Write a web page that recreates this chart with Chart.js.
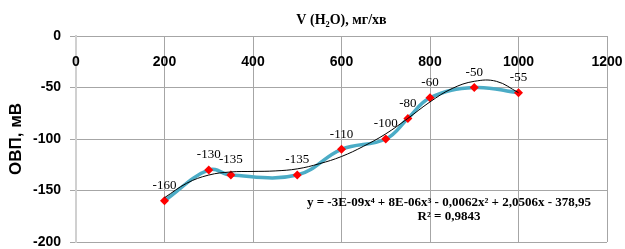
<!DOCTYPE html>
<html>
<head>
<meta charset="utf-8">
<script src="https://cdn.jsdelivr.net/npm/chart.js@4/dist/chart.umd.min.js"></script>
<style>
  html, body { margin: 0; padding: 0; background: #fff; }
  #wrap { width: 625px; height: 249px; }
</style>
</head>
<body>
<div id="wrap"><canvas id="myChart" width="625" height="249"></canvas></div>
<script>
// water flow, mg/min  ->  ORP, mV
const flowX = [200, 300, 350, 500, 600, 700, 750, 800, 900, 1000];
const orpY = [-160, -130, -135, -135, -110, -100, -80, -60, -50, -55];

// polynomial trendline
const trendX = [200, 250, 300, 350, 400, 450, 500, 550, 600, 650, 700, 750, 800, 850, 900, 950, 1000];
const trendY = [-157, -143, -135, -132, -131.5, -131, -129, -124, -117, -107, -95, -80, -64, -51, -44, -44, -55];

const xTicks = [0, 200, 400, 600, 800, 1000, 1200];
const yTicks = [0, -50, -100, -150, -200];

const trendText = "y = -3E-09x\u2074 + 8E-06x\u00b3 - 0,0062x\u00b2 + 2,0506x - 378,95";
const r2Text = "R\u00b2 = 0,9843";

let ctx = document.getElementById("myChart").getContext("2d");

let mainData = flowX.map((x, i) => ({ x: x, y: orpY[i] }));
let trendData = trendX.map((x, i) => ({ x: x, y: trendY[i] }));

// x labels sit under the zero line, equation + point labels on top
const extras = {
  id: "extras",
  afterDraw(chart) {
    const c = chart.ctx;
    const xs = chart.scales.x;
    const ys = chart.scales.y;
    c.save();
    c.fillStyle = "#000";
    c.textAlign = "center";
    c.textBaseline = "middle";

    c.font = "bold 14px 'Liberation Sans', Arial, sans-serif";
    xTicks.forEach(v => {
      c.fillText(String(v), xs.getPixelForValue(v), ys.getPixelForValue(0) + 26);
    });

    c.font = "13px 'Liberation Serif', 'Times New Roman', serif";
    chart.getDatasetMeta(0).data.forEach((pt, i) => {
      c.fillText(String(orpY[i]), pt.x, pt.y - 15);
    });

    c.font = "bold 13px 'Liberation Serif', 'Times New Roman', serif";
    c.fillText(trendText, 449, 203);
    c.fillText(r2Text, 449, 217);
    c.restore();
  }
};

let chart = new Chart(ctx, {
  type: "line",
  data: {
    datasets: [
      {
        label: "ОВП",
        data: mainData,
        borderColor: "#4bacc6",
        borderWidth: 3.5,
        tension: 0.4,
        pointStyle: "rectRot",
        pointRadius: 4.5,
        pointBackgroundColor: "#ff0000",
        pointBorderColor: "#ff0000",
        pointBorderWidth: 0,
        order: 2
      },
      {
        label: "trend",
        data: trendData,
        borderColor: "#000000",
        borderWidth: 1,
        tension: 0.4,
        pointRadius: 0,
        order: 1
      }
    ]
  },
  options: {
    responsive: false,
    animation: false,
    layout: { padding: { left: 0, top: 0, right: 18, bottom: 7 } },
    plugins: {
      legend: { display: false },
      tooltip: { enabled: false }
    },
    scales: {
      x: {
        type: "linear",
        position: "top",
        min: 0,
        max: 1200,
        afterFit: s => { s.height = 36; s.paddingLeft = 0; s.paddingRight = 0; },
        ticks: { display: false, stepSize: 200 },
        grid: { color: "#a6a6a6", lineWidth: 1, drawTicks: false },
        border: { display: false },
        title: {
          display: true,
          text: "V (H\u2082O), мг/хв",
          color: "#000",
          font: { family: "'Liberation Serif', 'Times New Roman', serif", size: 14, weight: "bold" },
          padding: { top: 12, bottom: 0 }
        }
      },
      y: {
        min: -200,
        max: 0,
        afterFit: s => { s.width = 76; s.paddingTop = 0; s.paddingBottom = 0; },
        afterBuildTicks: s => { s.ticks = yTicks.map(v => ({ value: v })); },
        ticks: {
          color: "#000",
          padding: 9,
          font: { family: "'Liberation Sans', Arial, sans-serif", size: 14, weight: "bold" }
        },
        grid: { color: "#a6a6a6", lineWidth: 1, tickLength: 6 },
        border: { display: true, color: "#d0d0d0", width: 2 },
        title: {
          display: true,
          text: "ОВП, мВ",
          color: "#000",
          font: { family: "'Liberation Sans', Arial, sans-serif", size: 17, weight: "bold" },
          padding: { top: 6, bottom: 0 }
        }
      }
    }
  },
  plugins: [extras]
});
</script>
</body>
</html>
